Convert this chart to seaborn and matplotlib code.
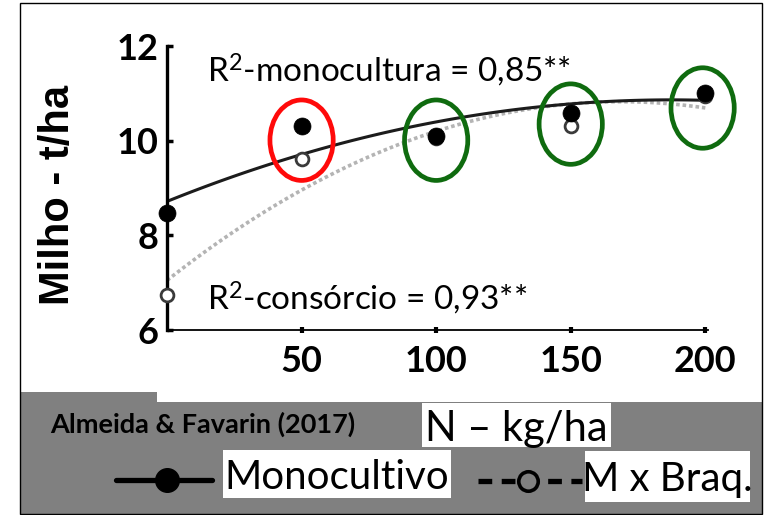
import numpy as np
import pandas as pd
import seaborn as sns
import matplotlib.pyplot as plt
from matplotlib.patches import Ellipse, Rectangle, Polygon
from matplotlib.lines import Line2D

# Nitrogen rates (kg/ha) and maize grain yield (t/ha)
n_rates = [0, 50, 100, 150, 200]
yield_mono = [8.47, 10.30, 10.10, 10.58, 11.00]
yield_consorcio = [6.74, 9.62, 10.05, 10.31, 10.95]

y_ticks = [6, 8, 10, 12]
x_ticks = [50, 100, 150, 200]

# highlighted rates: (N rate, centre yield, ring colour)
highlight_rates = [50, 100, 150, 199]
highlight_centres = [10.01, 10.01, 10.35, 10.69]
highlight_colors = ["#ff0a0a", "#0f6b0f", "#0f6b0f", "#0f6b0f"]

r2_mono_text = r"R$^{2}$-monocultura = 0,85**"
r2_cons_text = r"R$^{2}$-consórcio = 0,93**"

df = pd.DataFrame({"N": n_rates, "mono": yield_mono, "cons": yield_consorcio})

W, H = 765, 515
sns.set_theme(style="white")
plt.rcParams["font.family"] = ["Lato", "DejaVu Sans"]
plt.rcParams["mathtext.fontset"] = "custom"
plt.rcParams["mathtext.rm"] = "Lato"
plt.rcParams["mathtext.it"] = "Lato:italic"
plt.rcParams["mathtext.bf"] = "Lato:bold"

fig = plt.figure(figsize=(W / 100, H / 100), dpi=100)


def fx(px):
    return px / W


def fy(py):
    return 1 - py / H


# grey caption band and outer frame
band = Polygon([(fx(20), fy(392)), (fx(157), fy(392)), (fx(157), fy(402)),
                (fx(762), fy(402)), (fx(762), fy(515)), (fx(20), fy(515))],
               closed=True, transform=fig.transFigure, facecolor="#808080",
               edgecolor="none", zorder=0)
fig.patches.append(band)
frame = Rectangle((fx(20), fy(514)), fx(742), 511 / H, transform=fig.transFigure,
                  facecolor="none", edgecolor="black", linewidth=1.0, zorder=1)
fig.patches.append(frame)

ax = fig.add_axes([fx(167), fy(330), fx(708 - 167), (330 - 46) / H])
ax.set_facecolor("none")

# fitted quadratic responses
sns.regplot(data=df, x="N", y="cons", order=2, ci=None, scatter=False, ax=ax,
            line_kws=dict(color="#b4b4b4", linewidth=2.6, linestyle=(0, (1, 0.8))))
sns.regplot(data=df, x="N", y="mono", order=2, ci=None, scatter=False, ax=ax,
            line_kws=dict(color="#1c1c1c", linewidth=2.2))

# observed means
sns.scatterplot(data=df, x="N", y="cons", ax=ax, s=85, color="white",
                edgecolor="#3a3a3a", linewidth=2.0, zorder=4, clip_on=False)
sns.scatterplot(data=df, x="N", y="mono", ax=ax, s=150, color="black",
                edgecolor="black", linewidth=0.5, zorder=5, clip_on=False)

for xr, yc, col in zip(highlight_rates, highlight_centres, highlight_colors):
    ax.add_patch(Ellipse((xr, yc), width=23.5, height=1.70, facecolor="none",
                         edgecolor=col, linewidth=3.4, zorder=6, clip_on=False))

ax.set_xlim(0, 201)
ax.set_ylim(6, 12)
ax.set_xticks(x_ticks)
ax.set_yticks(y_ticks)
ax.set_xticklabels([str(v) for v in x_ticks], fontsize=26, fontweight="bold")
ax.set_yticklabels([str(v) for v in y_ticks], fontsize=26, fontweight="bold")
ax.tick_params(axis="y", direction="in", length=4, width=2.5, pad=6, colors="black")
ax.tick_params(axis="x", direction="inout", length=5, width=3, pad=8, colors="black")
ax.tick_params(axis="y", left=True)
ax.tick_params(axis="x", bottom=True)

for side in ["top", "right"]:
    ax.spines[side].set_visible(False)
ax.spines["left"].set_linewidth(2.4)
ax.spines["left"].set_color("black")
ax.spines["bottom"].set_linewidth(1.3)
ax.spines["bottom"].set_color("black")

ax.set_xlabel("")
ax.set_ylabel("Milho - t/ha", fontsize=30, fontweight="bold",
              family=["Liberation Sans", "DejaVu Sans"], color="black")
ax.yaxis.set_label_coords((78 - 167) / (708 - 167), (330 - 195) / (330 - 46))

fig.text(fx(207), fy(82), r2_mono_text, fontsize=24, color="black",
         ha="left", va="baseline")
fig.text(fx(207), fy(310), r2_cons_text, fontsize=24, color="black",
         ha="left", va="baseline")

# caption band contents
fig.text(fx(50), fy(433), "Almeida & Favarin (2017)", fontsize=19.5,
         fontweight="bold", color="black", ha="left", va="baseline")


def white_box(x0, y0, x1, y1):
    fig.patches.append(Rectangle((fx(x0), fy(y1)), (x1 - x0) / W, (y1 - y0) / H,
                                 transform=fig.transFigure, facecolor="white",
                                 edgecolor="none", zorder=2))


white_box(422, 403, 611, 447)
fig.text(fx(516), fy(425), "N – kg/ha", fontsize=30, color="black",
         ha="center", va="center_baseline", zorder=3)

white_box(223, 450, 451, 498)
fig.text(fx(337), fy(474), "Monocultivo", fontsize=29, color="black",
         ha="center", va="center_baseline", zorder=3)

white_box(585, 451, 750, 502)
fig.text(fx(667), fy(476), "M x Braq.", fontsize=29, color="black",
         ha="center", va="center_baseline", zorder=3)

fig.add_artist(Line2D([fx(116), fx(212)], [fy(480), fy(480)], color="black",
                      linewidth=3.8, transform=fig.transFigure, zorder=3))
fig.add_artist(Line2D([fx(167)], [fy(480)], marker="o", markersize=17,
                      color="black", transform=fig.transFigure, zorder=4))
fig.add_artist(Line2D([fx(478), fx(582)], [fy(481), fy(481)], color="black",
                      linewidth=3.8, dashes=(2.6, 1.8), transform=fig.transFigure,
                      zorder=3))
fig.add_artist(Line2D([fx(528)], [fy(481)], marker="o", markersize=14,
                      markerfacecolor="#808080", markeredgecolor="black",
                      markeredgewidth=2.6, transform=fig.transFigure, zorder=4))

fig.savefig("out.png", dpi=100)
